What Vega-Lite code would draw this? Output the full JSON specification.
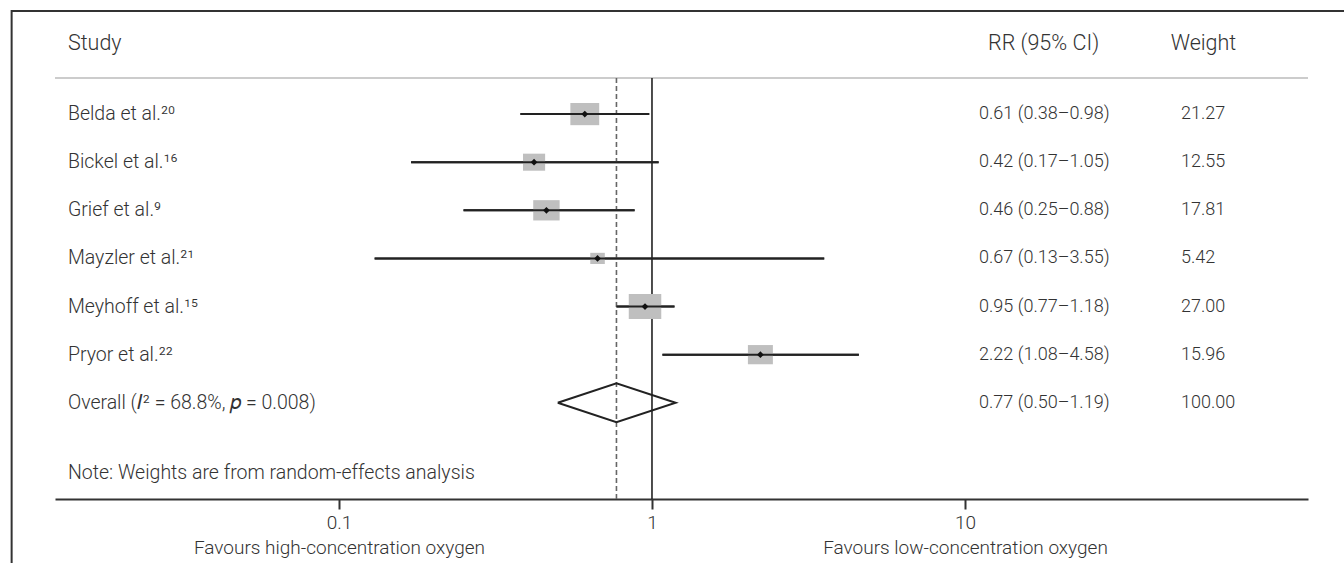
{
  "$schema": "https://vega.github.io/schema/vega-lite/v6.json",
  "width": 1253,
  "height": 421,
  "autosize": {"type": "none"},
  "padding": {"left": 55, "top": 78, "right": 36, "bottom": 64},
  "background": "white",
  "config": {
    "view": {"stroke": null},
    "font": "Roboto",
    "text": {"font": "Roboto", "fontSize": 18, "fontWeight": 300, "color": "#333"},
    "axisY": {"disable": true},
    "axisX": {
      "title": null, "grid": false,
      "domainColor": "#333", "domainWidth": 2,
      "tickColor": "#333", "tickWidth": 2, "tickSize": 10,
      "labelFont": "Roboto", "labelFontWeight": 300, "labelFontSize": 19, "labelColor": "#333",
      "labelPadding": 4, "labelLineHeight": 25, "labelFlush": false, "labelOverlap": false, "labelLimit": 0
    }
  },
  "datasets": {
    "rows": [
      {"type": "study", "label": "Belda et al.²⁰", "row": 1, "rr": 0.61, "lo": 0.38, "hi": 0.98, "weight": 21.27, "ci": "0.61 (0.38–0.98)", "w": "21.27"},
      {"type": "study", "label": "Bickel et al.¹⁶", "row": 2, "rr": 0.42, "lo": 0.17, "hi": 1.05, "weight": 12.55, "ci": "0.42 (0.17–1.05)", "w": "12.55"},
      {"type": "study", "label": "Grief et al.⁹", "row": 3, "rr": 0.46, "lo": 0.25, "hi": 0.88, "weight": 17.81, "ci": "0.46 (0.25–0.88)", "w": "17.81"},
      {"type": "study", "label": "Mayzler et al.²¹", "row": 4, "rr": 0.67, "lo": 0.13, "hi": 3.55, "weight": 5.42, "ci": "0.67 (0.13–3.55)", "w": "5.42"},
      {"type": "study", "label": "Meyhoff et al.¹⁵", "row": 5, "rr": 0.95, "lo": 0.77, "hi": 1.18, "weight": 27.00, "ci": "0.95 (0.77–1.18)", "w": "27.00"},
      {"type": "study", "label": "Pryor et al.²²", "row": 6, "rr": 2.22, "lo": 1.08, "hi": 4.58, "weight": 15.96, "ci": "2.22 (1.08–4.58)", "w": "15.96"},
      {"type": "overall", "label": "Overall (𝐼² = 68.8%, 𝑝 = 0.008)", "row": 7, "rr": 0.77, "lo": 0.50, "hi": 1.19, "weight": 100, "ci": "0.77 (0.50–1.19)", "w": "100.00"}
    ],
    "diamond": [
      {"i": 0, "x": 0.50, "y": 7},
      {"i": 1, "x": 0.77, "y": 6.595},
      {"i": 2, "x": 1.19, "y": 7},
      {"i": 3, "x": 0.77, "y": 7.405},
      {"i": 4, "x": 0.50, "y": 7}
    ]
  },
  "data": {"name": "rows"},
  "layer": [
    {
      "transform": [{"filter": "datum.type == 'study'"}],
      "mark": {"type": "rule", "color": "#222", "strokeWidth": 2},
      "encoding": {
        "x": {"field": "lo", "type": "quantitative", "scale": {"type": "log", "domain": [0.012382, 124.68]}, "axis": {"values": [0.1, 1, 10], "labelExpr": "datum.value == 0.1 ? ['0.1', 'Favours high-concentration oxygen'] : datum.value == 10 ? ['10', 'Favours low-concentration oxygen'] : '1'"}},
        "x2": {"field": "hi"},
        "y": {"field": "row", "type": "quantitative", "scale": {"type": "linear", "domain": [0.25, 9], "reverse": true, "nice": false, "zero": false}}
      }
    },
    {
      "data": {"values": [{}]},
      "mark": {"type": "rect", "filled": false, "stroke": "#333", "strokeWidth": 2, "clip": false},
      "encoding": {
        "x": {"datum": 0.009, "scale": {"type": "log", "domain": [0.012382, 124.68]}, "axis": {"values": [0.1, 1, 10], "labelExpr": "datum.value == 0.1 ? ['0.1', 'Favours high-concentration oxygen'] : datum.value == 10 ? ['10', 'Favours low-concentration oxygen'] : '1'"}},
        "x2": {"datum": 1000000},
        "y": {"datum": -1.1425, "scale": {"type": "linear", "domain": [0.25, 9], "reverse": true, "nice": false, "zero": false}},
        "y2": {"datum": 30}
      }
    },
    {
      "data": {"values": [{}]},
      "mark": {"type": "rule", "color": "#cccccc", "strokeWidth": 2},
      "encoding": {
        "y": {"datum": 0.25, "scale": {"type": "linear", "domain": [0.25, 9], "reverse": true, "nice": false, "zero": false}}
      }
    },
    {
      "data": {"values": [{}]},
      "mark": {"type": "rule", "color": "#222", "strokeWidth": 1.6},
      "encoding": {
        "x": {"datum": 1, "scale": {"type": "log", "domain": [0.012382, 124.68]}, "axis": {"values": [0.1, 1, 10], "labelExpr": "datum.value == 0.1 ? ['0.1', 'Favours high-concentration oxygen'] : datum.value == 10 ? ['10', 'Favours low-concentration oxygen'] : '1'"}}
      }
    },
    {
      "data": {"values": [{}]},
      "mark": {"type": "rule", "color": "#666", "strokeWidth": 1.6, "strokeDash": [5, 3]},
      "encoding": {
        "x": {"datum": 0.77, "scale": {"type": "log", "domain": [0.012382, 124.68]}, "axis": {"values": [0.1, 1, 10], "labelExpr": "datum.value == 0.1 ? ['0.1', 'Favours high-concentration oxygen'] : datum.value == 10 ? ['10', 'Favours low-concentration oxygen'] : '1'"}}
      }
    },
    {
      "transform": [{"filter": "datum.type == 'study'"}],
      "mark": {"type": "point", "filled": true, "opacity": 1, "color": "#bfbfbf", "shape": "M -1.3 -1 L 1.3 -1 L 1.3 1 L -1.3 1 Z"},
      "encoding": {
        "x": {"field": "rr", "type": "quantitative", "scale": {"type": "log", "domain": [0.012382, 124.68]}, "axis": {"values": [0.1, 1, 10], "labelExpr": "datum.value == 0.1 ? ['0.1', 'Favours high-concentration oxygen'] : datum.value == 10 ? ['10', 'Favours low-concentration oxygen'] : '1'"}},
        "y": {"field": "row", "type": "quantitative", "scale": {"type": "linear", "domain": [0.25, 9], "reverse": true, "nice": false, "zero": false}},
        "size": {"field": "weight", "type": "quantitative", "scale": {"type": "linear", "domain": [0, 27], "range": [0, 625], "zero": true}, "legend": null}
      }
    },
    {
      "transform": [{"filter": "datum.type == 'study'"}],
      "mark": {"type": "rule", "color": "#222", "strokeWidth": 2},
      "encoding": {
        "x": {"field": "lo", "type": "quantitative", "scale": {"type": "log", "domain": [0.012382, 124.68]}, "axis": {"values": [0.1, 1, 10], "labelExpr": "datum.value == 0.1 ? ['0.1', 'Favours high-concentration oxygen'] : datum.value == 10 ? ['10', 'Favours low-concentration oxygen'] : '1'"}},
        "x2": {"field": "hi"},
        "y": {"field": "row", "type": "quantitative", "scale": {"type": "linear", "domain": [0.25, 9], "reverse": true, "nice": false, "zero": false}}
      }
    },
    {
      "transform": [{"filter": "datum.type == 'study'"}],
      "mark": {"type": "point", "filled": true, "opacity": 1, "color": "#111", "shape": "diamond", "size": 45},
      "encoding": {
        "x": {"field": "rr", "type": "quantitative", "scale": {"type": "log", "domain": [0.012382, 124.68]}, "axis": {"values": [0.1, 1, 10], "labelExpr": "datum.value == 0.1 ? ['0.1', 'Favours high-concentration oxygen'] : datum.value == 10 ? ['10', 'Favours low-concentration oxygen'] : '1'"}},
        "y": {"field": "row", "type": "quantitative", "scale": {"type": "linear", "domain": [0.25, 9], "reverse": true, "nice": false, "zero": false}}
      }
    },
    {
      "data": {"name": "diamond"},
      "mark": {"type": "line", "color": "#222", "strokeWidth": 2},
      "encoding": {
        "x": {"field": "x", "type": "quantitative", "scale": {"type": "log", "domain": [0.012382, 124.68]}, "axis": {"values": [0.1, 1, 10], "labelExpr": "datum.value == 0.1 ? ['0.1', 'Favours high-concentration oxygen'] : datum.value == 10 ? ['10', 'Favours low-concentration oxygen'] : '1'"}},
        "y": {"field": "y", "type": "quantitative", "scale": {"type": "linear", "domain": [0.25, 9], "reverse": true, "nice": false, "zero": false}},
        "order": {"field": "i", "type": "quantitative"}
      }
    },
    {
      "mark": {"type": "text", "align": "left", "baseline": "middle", "fontSize": 19.5},
      "encoding": {
        "x": {"datum": 0.013617, "scale": {"type": "log", "domain": [0.012382, 124.68]}, "axis": {"values": [0.1, 1, 10], "labelExpr": "datum.value == 0.1 ? ['0.1', 'Favours high-concentration oxygen'] : datum.value == 10 ? ['10', 'Favours low-concentration oxygen'] : '1'"}},
        "y": {"field": "row", "type": "quantitative", "scale": {"type": "linear", "domain": [0.25, 9], "reverse": true, "nice": false, "zero": false}},
        "text": {"field": "label"}
      }
    },
    {
      "mark": {"type": "text", "align": "left", "baseline": "middle"},
      "encoding": {
        "x": {"datum": 11.085, "scale": {"type": "log", "domain": [0.012382, 124.68]}, "axis": {"values": [0.1, 1, 10], "labelExpr": "datum.value == 0.1 ? ['0.1', 'Favours high-concentration oxygen'] : datum.value == 10 ? ['10', 'Favours low-concentration oxygen'] : '1'"}},
        "y": {"field": "row", "type": "quantitative", "scale": {"type": "linear", "domain": [0.25, 9], "reverse": true, "nice": false, "zero": false}},
        "text": {"field": "ci"}
      }
    },
    {
      "mark": {"type": "text", "align": "left", "baseline": "middle"},
      "encoding": {
        "x": {"datum": 48.99, "scale": {"type": "log", "domain": [0.012382, 124.68]}, "axis": {"values": [0.1, 1, 10], "labelExpr": "datum.value == 0.1 ? ['0.1', 'Favours high-concentration oxygen'] : datum.value == 10 ? ['10', 'Favours low-concentration oxygen'] : '1'"}},
        "y": {"field": "row", "type": "quantitative", "scale": {"type": "linear", "domain": [0.25, 9], "reverse": true, "nice": false, "zero": false}},
        "text": {"field": "w"}
      }
    },
    {
      "data": {"values": [{"t": "Study"}]},
      "mark": {"type": "text", "align": "left", "baseline": "middle", "fontSize": 21.5},
      "encoding": {
        "x": {"datum": 0.013617, "scale": {"type": "log", "domain": [0.012382, 124.68]}, "axis": {"values": [0.1, 1, 10], "labelExpr": "datum.value == 0.1 ? ['0.1', 'Favours high-concentration oxygen'] : datum.value == 10 ? ['10', 'Favours low-concentration oxygen'] : '1'"}},
        "y": {"datum": -0.457, "scale": {"type": "linear", "domain": [0.25, 9], "reverse": true, "nice": false, "zero": false}},
        "text": {"field": "t"}
      }
    },
    {
      "data": {"values": [{"t": "RR (95% CI)"}]},
      "mark": {"type": "text", "align": "left", "baseline": "middle", "fontSize": 21.5},
      "encoding": {
        "x": {"datum": 11.846, "scale": {"type": "log", "domain": [0.012382, 124.68]}, "axis": {"values": [0.1, 1, 10], "labelExpr": "datum.value == 0.1 ? ['0.1', 'Favours high-concentration oxygen'] : datum.value == 10 ? ['10', 'Favours low-concentration oxygen'] : '1'"}},
        "y": {"datum": -0.457, "scale": {"type": "linear", "domain": [0.25, 9], "reverse": true, "nice": false, "zero": false}},
        "text": {"field": "t"}
      }
    },
    {
      "data": {"values": [{"t": "Weight"}]},
      "mark": {"type": "text", "align": "left", "baseline": "middle", "fontSize": 21.5},
      "encoding": {
        "x": {"datum": 45.41, "scale": {"type": "log", "domain": [0.012382, 124.68]}, "axis": {"values": [0.1, 1, 10], "labelExpr": "datum.value == 0.1 ? ['0.1', 'Favours high-concentration oxygen'] : datum.value == 10 ? ['10', 'Favours low-concentration oxygen'] : '1'"}},
        "y": {"datum": -0.457, "scale": {"type": "linear", "domain": [0.25, 9], "reverse": true, "nice": false, "zero": false}},
        "text": {"field": "t"}
      }
    },
    {
      "data": {"values": [{"t": "Note: Weights are from random-effects analysis"}]},
      "mark": {"type": "text", "align": "left", "baseline": "middle", "fontSize": 19.5},
      "encoding": {
        "x": {"datum": 0.013617, "scale": {"type": "log", "domain": [0.012382, 124.68]}, "axis": {"values": [0.1, 1, 10], "labelExpr": "datum.value == 0.1 ? ['0.1', 'Favours high-concentration oxygen'] : datum.value == 10 ? ['10', 'Favours low-concentration oxygen'] : '1'"}},
        "y": {"datum": 8.46, "scale": {"type": "linear", "domain": [0.25, 9], "reverse": true, "nice": false, "zero": false}},
        "text": {"field": "t"}
      }
    }
  ]
}
